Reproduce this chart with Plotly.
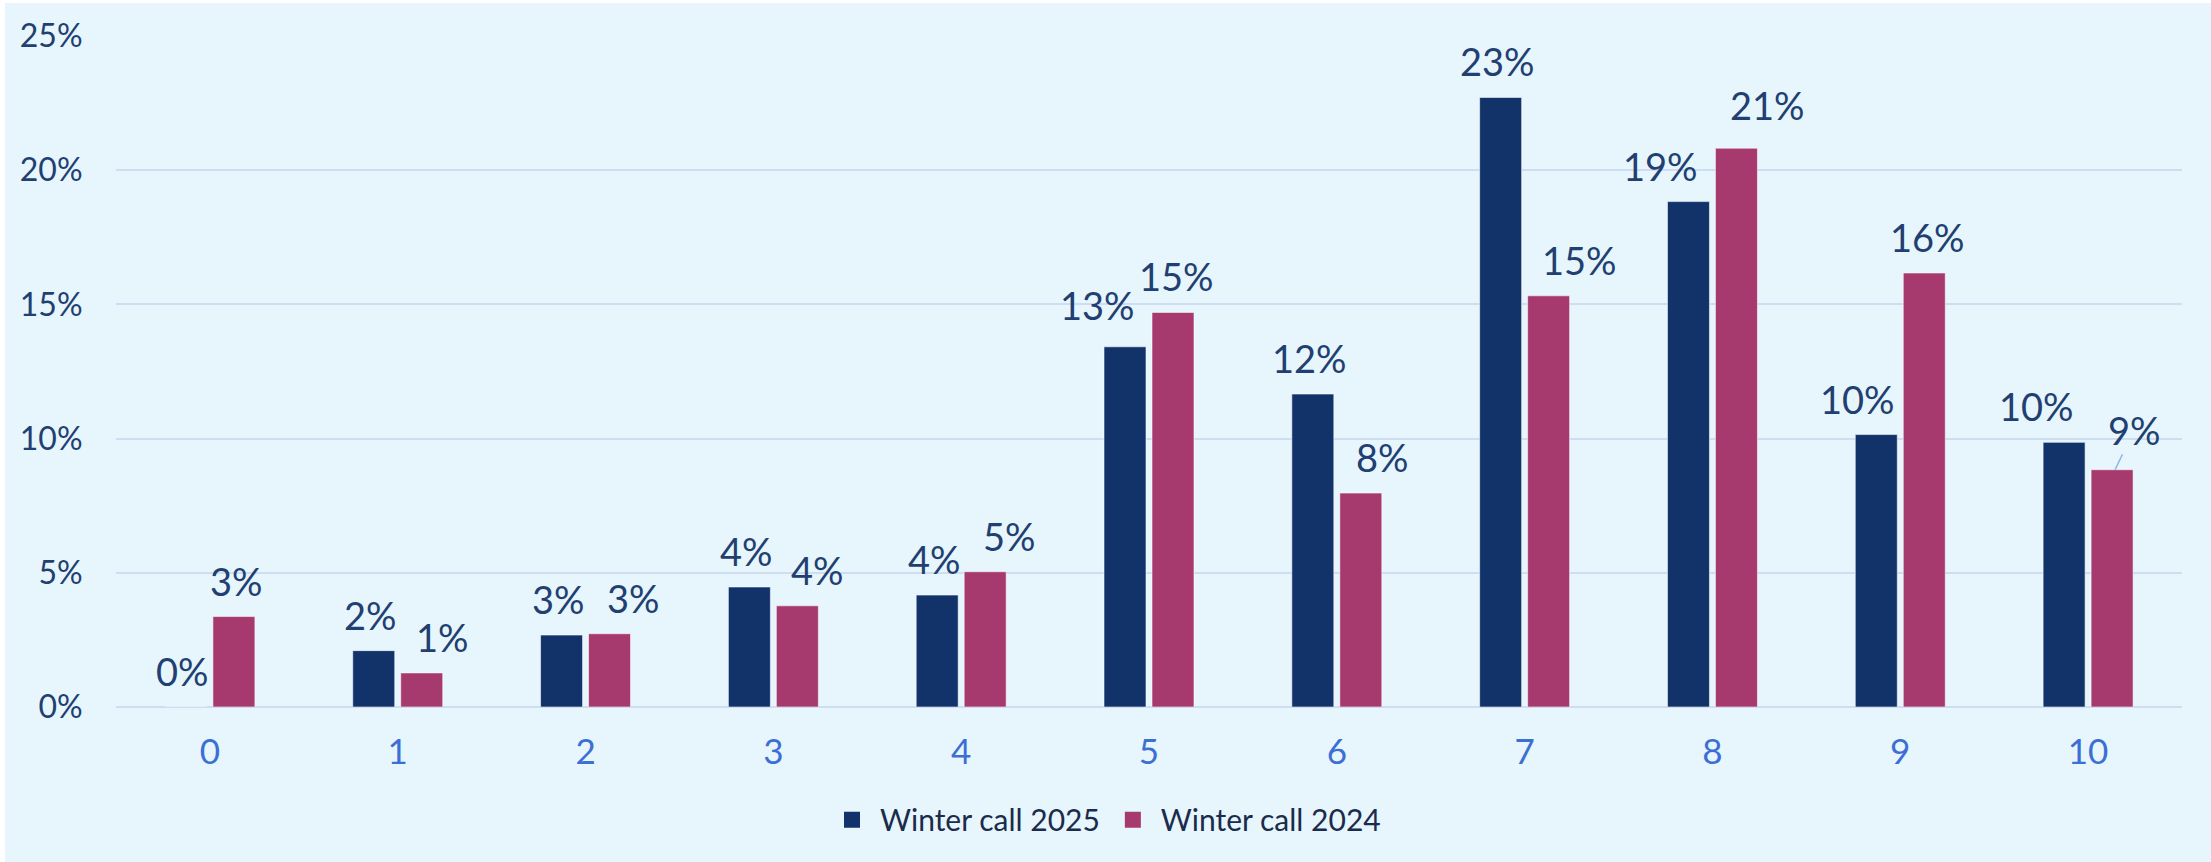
import plotly.graph_objects as go

categories = ["0", "1", "2", "3", "4", "5", "6", "7", "8", "9", "10"]
winter_2025 = [0.0, 2.10, 2.68, 4.47, 4.17, 13.42, 11.66, 22.71, 18.83, 10.15, 9.86]
winter_2024 = [3.37, 1.27, 2.73, 3.77, 5.04, 14.70, 7.97, 15.32, 20.82, 16.17, 8.84]
series_names = ["Winter call 2025", "Winter call 2024"]
y_ticks = [0, 5, 10, 15, 20, 25]
y_tick_labels = ["0%", "5%", "10%", "15%", "20%", "25%"]

NAVY = "#12336A"
PINK = "#A63A6E"
BG = "#E7F5FD"
TXT = "#213F70"
FONT = "Lato"

# label nudges (px) copied from the reference's hand-placed labels
nudge_2025 = [0, 0, 0, 0, 0, -25, 0, 0, -25, -16, -25]
nudge_2024 = [0, 18, 21, 17, 21, 0, 19, 28, 28, 0, 19]
lift_2025 = [0, 0, 0, 0, 0, -6, 0, 0, 0, 0, 0]
lift_2024 = [0, 0, 0, 0, 0, 0, 0, 0, -7, 0, 0]

# page body gets a 3px/5px white edge, figure fills the rest
W, H = 2206, 859
ML, MR, MT, MB = 111, 29, 33, 155
PW, PH = W - ML - MR, H - MT - MB

fig = go.Figure()
for name, vals, col in [(series_names[0], winter_2025, NAVY), (series_names[1], winter_2024, PINK)]:
    fig.add_trace(go.Bar(
        x=categories, y=vals, name=name, showlegend=False,
        marker=dict(color=col, line=dict(color="rgba(255,255,255,0.55)", width=1)),
        hoverinfo="skip",
    ))
    # bigger square swatch for the legend
    fig.add_trace(go.Scatter(
        x=[None], y=[None], mode="markers", name=name, hoverinfo="skip",
        marker=dict(symbol="square", size=18, color=col),
    ))

OFF = 27
for vals, sign, nudges, lifts in [(winter_2025, -1, nudge_2025, lift_2025),
                                  (winter_2024, 1, nudge_2024, lift_2024)]:
    for i, (c, v) in enumerate(zip(categories, vals)):
        label = f"{round(v):.0f}%"
        if sign == 1 and c == "10":
            # label with a leader line
            fig.add_annotation(
                x=c, y=v, xref="x", yref="y", xshift=sign * OFF,
                text=label, showarrow=True, arrowhead=0, arrowwidth=1.5,
                arrowcolor="#8FB0EA", ax=19, ay=-40, standoff=0,
                font=dict(family=FONT, size=38, color=TXT),
            )
            continue
        fig.add_annotation(
            x=c, y=v, xref="x", yref="y",
            xshift=sign * OFF + nudges[i], yshift=11 - lifts[i],
            yanchor="bottom", text=label, showarrow=False,
            font=dict(family=FONT, size=38, color=TXT),
        )

fig.update_layout(
    width=W, height=H,
    margin=dict(l=ML, r=MR, t=MT, b=MB, autoexpand=False),
    paper_bgcolor=BG, plot_bgcolor=BG,
    barmode="group", bargap=0.489, bargroupgap=0.125,
    font=dict(family=FONT, color=TXT),
    showlegend=True,
    legend=dict(
        orientation="h", x=(W / 2 - 3 - ML) / PW, xanchor="center",
        y=-0.168, yanchor="middle", itemwidth=46,
        font=dict(family=FONT, size=30, color="#1A2B4C"),
        bgcolor="rgba(0,0,0,0)",
    ),
    xaxis=dict(
        type="category", showgrid=False, zeroline=False, showline=False,
        tickfont=dict(family=FONT, size=35, color="#3B6FD4"),
        ticks="outside", ticklen=14, tickcolor="rgba(0,0,0,0)",
    ),
    yaxis=dict(
        range=[0, 25], tickmode="array", tickvals=y_ticks, ticktext=y_tick_labels,
        showgrid=True, gridcolor="#CFDDF3", gridwidth=2,
        zeroline=True, zerolinecolor="#CFDDF3", zerolinewidth=2,
        showline=False,
        tickfont=dict(family=FONT, size=32, color=TXT),
        ticks="outside", ticklen=26, tickcolor="rgba(0,0,0,0)",
    ),
)

fig.write_html("out.html", post_script="document.body.style.margin='3px 0 0 5px';")
